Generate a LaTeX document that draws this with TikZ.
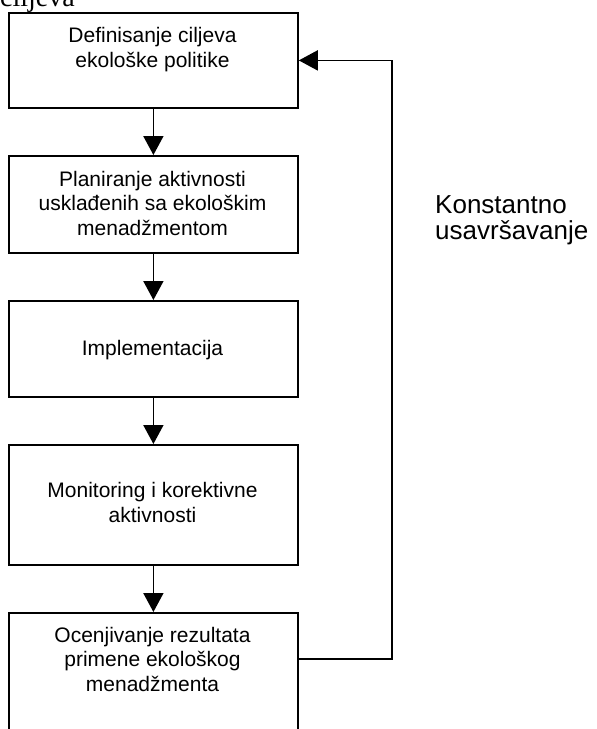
\documentclass[tikz,border=0pt]{standalone}
\usepackage{fontspec}
\setmainfont{Liberation Sans}
\newfontfamily\serifcap{Liberation Serif}
\usetikzlibrary{arrows.meta}

\tikzset{
  stepbox/.style={draw, line width=1.8pt, rectangle, inner sep=0pt,
    minimum width=289pt, anchor=north west},
  % multi-line labels are placed by the baseline of their last line
  boxtext/.style={align=center, inner sep=0pt, anchor=base,
    font=\fontsize{21pt}{24.5pt}\selectfont},
  flow/.style={line width=1.8pt, -{Triangle[width=20pt,length=19pt]}},
}

\begin{document}
\begin{tikzpicture}[x=1pt, y=-1pt]
  \useasboundingbox (0,0) rectangle (597,729);
  \clip (0,0) rectangle (597,729);

  % caption line running in from above
  \node[font=\serifcap\fontsize{28pt}{30pt}\selectfont, anchor=base west,
        inner sep=0pt] (cap) at (0,6) {ciljeva};

  % process steps
  \node[stepbox, minimum height=95pt]  (b1) at (8,12)  {};
  \node[stepbox, minimum height=97pt]  (b2) at (8,155) {};
  \node[stepbox, minimum height=96pt]  (b3) at (8,300) {};
  \node[stepbox, minimum height=120pt] (b4) at (8,444) {};
  \node[stepbox, minimum height=140pt] (b5) at (8,612) {};

  \node[boxtext] (t1) at (152.5,67)  {Definisanje ciljeva\\ekološke politike};
  \node[boxtext] (t2) at (152.5,235) {Planiranje aktivnosti\\usklađenih sa ekološkim\\menadžmentom};
  \node[boxtext] (t3) at (152.5,355) {Implementacija};
  \node[boxtext] (t4) at (152.5,522) {Monitoring i korektivne\\aktivnosti};
  \node[boxtext] (t5) at (152.5,691) {Ocenjivanje rezultata\\primene ekološkog\\menadžmenta};

  % downward flow between steps
  \draw[flow] (b1.south) -- (b2.north);
  \draw[flow] (b2.south) -- (b3.north);
  \draw[flow] (b3.south) -- (b4.north);
  \draw[flow] (b4.south) -- (b5.north);

  % feedback loop back to the first step
  \coordinate (fbout) at (297,659);
  \coordinate (fbcorner) at (392,659);
  \draw[flow] (fbout) -- (fbcorner) |- (b1.east);

  \node[align=left, anchor=base west, inner sep=0pt,
        font=\fontsize{26pt}{26pt}\selectfont] (loop) at (435,239)
        {Konstantno\\usavršavanje};
\end{tikzpicture}
\end{document}
